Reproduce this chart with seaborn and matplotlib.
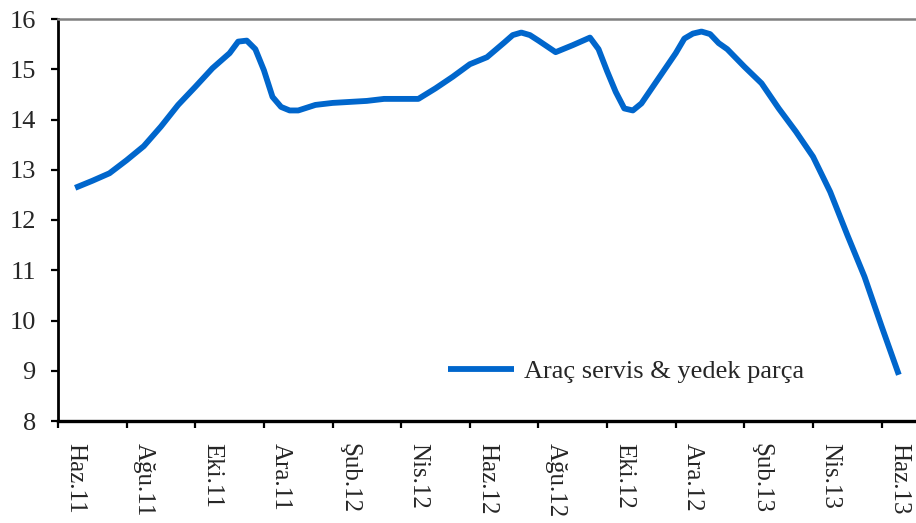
import numpy as np
import pandas as pd
import matplotlib
matplotlib.use("Agg")
import matplotlib.pyplot as plt
import seaborn as sns
from matplotlib.ticker import FixedLocator, NullFormatter, FixedFormatter

# months since Haz.11 (readings roughly every half month, denser at the turns)
months = [0, 0.5, 1, 1.5, 2, 2.5, 3, 3.5, 4, 4.5, 4.75, 5, 5.25, 5.5, 5.75,
          6, 6.25, 6.5, 7, 7.5, 8, 8.5, 9, 9.5, 10, 10.5, 11, 11.5, 12, 12.5,
          12.75, 13, 13.25, 13.5, 14, 14.5, 15, 15.25, 15.5, 15.75, 16, 16.25,
          16.5, 17, 17.5, 17.75, 18, 18.25, 18.5, 18.75, 19, 19.5, 20, 20.5,
          21, 21.5, 22, 22.5, 23, 23.5, 24]
values = [12.64, 12.78, 12.93, 13.19, 13.47, 13.86, 14.29, 14.65, 15.02, 15.32,
          15.55, 15.57, 15.40, 14.98, 14.45, 14.25, 14.18, 14.18, 14.29, 14.33,
          14.35, 14.37, 14.41, 14.41, 14.41, 14.62, 14.85, 15.10, 15.24, 15.53,
          15.68, 15.73, 15.68, 15.57, 15.34, 15.48, 15.63, 15.40, 14.96, 14.55,
          14.22, 14.18, 14.32, 14.82, 15.32, 15.61, 15.71, 15.75, 15.70, 15.52,
          15.40, 15.05, 14.72, 14.22, 13.76, 13.26, 12.56, 11.70, 10.87, 9.88,
          8.92]
month_labels = ["Haz.11", "Ağu.11", "Eki.11", "Ara.11", "Şub.12", "Nis.12",
                "Haz.12", "Ağu.12", "Eki.12", "Ara.12", "Şub.13", "Nis.13",
                "Haz.13"]
series_name = "Araç servis & yedek parça"

df = pd.DataFrame({"period": months, "value": values, "series": series_name})

sns.set_theme(style="white")
plt.rcParams["font.family"] = ["Liberation Serif", "DejaVu Serif"]

fig = plt.figure(figsize=(9.16, 5.23), dpi=100)
ax = fig.add_axes([58 / 916, 1 - 421 / 523, 1 - 58 / 916, (421 - 19) / 523])

sns.lineplot(data=df, x="period", y="value", hue="series", palette=["#0066CC"],
             linewidth=4.2, solid_capstyle="butt", ax=ax)

ax.set_xlim(-0.5, 24.5)
ax.set_ylim(8, 16)
ax.set_yticks(range(8, 17))
ax.set_xlabel("")
ax.set_ylabel("")

# tick marks on category boundaries, labels at category centres
ax.xaxis.set_major_locator(FixedLocator(np.arange(-0.5, 24.6, 2)))
ax.xaxis.set_major_formatter(NullFormatter())
ax.xaxis.set_minor_locator(FixedLocator(np.arange(0, 25, 2)))
ax.xaxis.set_minor_formatter(FixedFormatter(month_labels))
ax.tick_params(axis="x", which="major", direction="out", length=5, width=1.6,
               color="black", bottom=True)
ax.tick_params(axis="x", which="minor", length=0, pad=16, labelsize=18,
               labelrotation=270, bottom=True)
for lbl in ax.get_xticklabels(minor=True):
    lbl.set_va("top")
    lbl.set_ha("center")
ax.tick_params(axis="y", direction="out", length=5, width=1.6, color="black",
               pad=11, labelsize=19, left=True)

ax.spines["left"].set_color("black")
ax.spines["left"].set_linewidth(2)
ax.spines["bottom"].set_color("black")
ax.spines["bottom"].set_linewidth(2.4)
ax.spines["top"].set_color("#808080")
ax.spines["top"].set_linewidth(1.8)
ax.spines["right"].set_visible(False)
ax.grid(False)

ax.legend(loc="center left", bbox_to_anchor=(0.455, 0.124), frameon=False,
          borderpad=0, borderaxespad=0, handlelength=2.5, handletextpad=0.35,
          fontsize=19)

fig.savefig("out.png", dpi=100)
